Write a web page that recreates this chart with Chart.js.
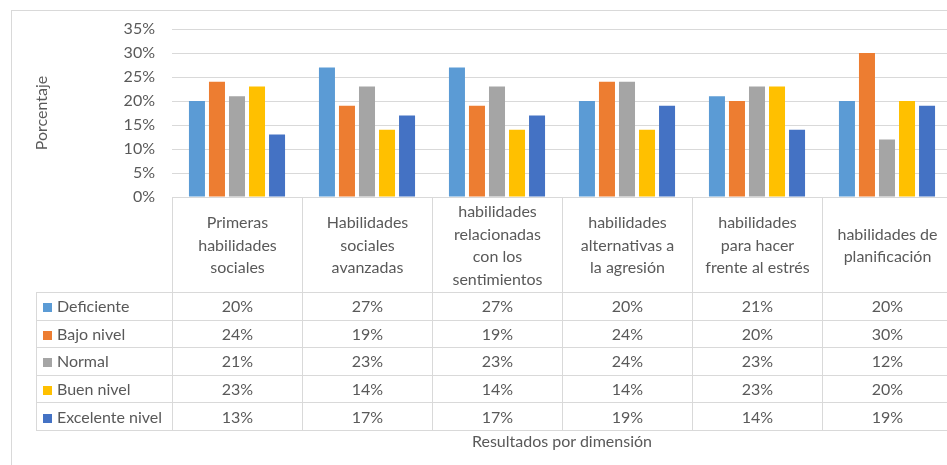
<!DOCTYPE html>
<html>
<head>
<meta charset="utf-8">
<script src="https://cdn.jsdelivr.net/npm/chart.js@4"></script>
<style>
  body { margin: 0; overflow: hidden; background: #fff; font-family: Lato, sans-serif; color: #595959; }
  #frame { position: absolute; left: 11px; top: 10px; width: 960px; height: 470px; border: 1px solid #d9d9d9; }
  #wrap { position: absolute; left: 0; top: 0; width: 960px; height: 465px; }
  #tbl { position: absolute; left: 36px; top: 197px; border-collapse: collapse; table-layout: fixed; width: 916px; font-size: 16px; }
  #tbl td { border: 1px solid #d9d9d9; text-align: center; padding: 0; height: 26.6px; line-height: 18px; white-space: nowrap; overflow: hidden; }
  #tbl td.lbl { text-align: left; padding-left: 6px; }
  #tbl tr.head td { height: 94px; line-height: 22.5px; }
  #tbl tr.head td.blank { border-top: none; border-left: none; }
  .sw { display: inline-block; width: 9px; height: 9px; margin-right: 5px; vertical-align: 0px; }
  #xtitle { position: absolute; left: 172px; width: 780px; top: 431px; text-align: center; font-size: 16px; }
</style>
</head>
<body>
<div id="frame"></div>
<div id="wrap"><canvas id="chart"></canvas></div>
<table id="tbl"></table>
<div id="xtitle">Resultados por dimensión</div>
<script>
// -------------------------
// DATA
// -------------------------
const categories = [
    ["Primeras", "habilidades", "sociales"],
    ["Habilidades", "sociales", "avanzadas"],
    ["habilidades", "relacionadas", "con los", "sentimientos"],
    ["habilidades", "alternativas a", "la agresión"],
    ["habilidades", "para hacer", "frente al estrés"],
    ["habilidades de", "planificación"]
];
const seriesNames = ["Deficiente", "Bajo nivel", "Normal", "Buen nivel", "Excelente nivel"];
const seriesColors = ["#5B9BD5", "#ED7D31", "#A5A5A5", "#FFC000", "#4472C4"];

const deficiente = [20, 27, 27, 20, 21, 20];
const bajoNivel  = [24, 19, 19, 24, 20, 30];
const normal     = [21, 23, 23, 24, 23, 12];
const buenNivel  = [23, 14, 14, 14, 23, 20];
const excelente  = [13, 17, 17, 19, 14, 19];
const seriesValues = [deficiente, bajoNivel, normal, buenNivel, excelente];

const yTicks = [0, 5, 10, 15, 20, 25, 30, 35];

// -------------------------
// DATA TABLE
// -------------------------
const table = document.getElementById("tbl");
let html = '<colgroup><col style="width:136px">' +
    categories.map(() => '<col style="width:130px">').join("") + '</colgroup>';
html += '<tr class="head"><td class="blank"></td>' +
    categories.map(c => `<td>${c.join("<br>")}</td>`).join("") + '</tr>';
seriesNames.forEach((name, i) => {
    html += `<tr><td class="lbl"><span class="sw" style="background:${seriesColors[i]}"></span>${name}</td>` +
        seriesValues[i].map(v => `<td>${v}%</td>`).join("") + '</tr>';
});
table.innerHTML = html;

// -------------------------
// CHART
// -------------------------
Chart.defaults.font.family = "Lato, sans-serif";
Chart.defaults.color = "#595959";

new Chart(document.getElementById("chart"), {
    type: "bar",
    data: {
        labels: categories,
        datasets: seriesNames.map((name, i) => ({
            label: name,
            data: seriesValues[i],
            backgroundColor: seriesColors[i],
            categoryPercentage: 0.77,
            barPercentage: 0.8
        }))
    },
    options: {
        responsive: true,
        maintainAspectRatio: false,
        animation: false,
        layout: { padding: { top: 29, bottom: 268, right: 8, left: 0 } },
        plugins: { legend: { display: false }, tooltip: { enabled: false } },
        scales: {
            x: { display: false },
            y: {
                min: 0,
                max: 35,
                afterFit: scale => { scale.width = 172; },
                afterBuildTicks: scale => { scale.ticks = yTicks.map(v => ({ value: v })); },
                ticks: { callback: v => v + "%", padding: 17, font: { size: 16 }, color: "#595959" },
                grid: { color: "#d9d9d9", drawTicks: false },
                border: { display: false },
                title: { display: true, text: "Porcentaje", font: { size: 16 }, color: "#595959", padding: { top: 32 } }
            }
        }
    }
});
</script>
</body>
</html>
